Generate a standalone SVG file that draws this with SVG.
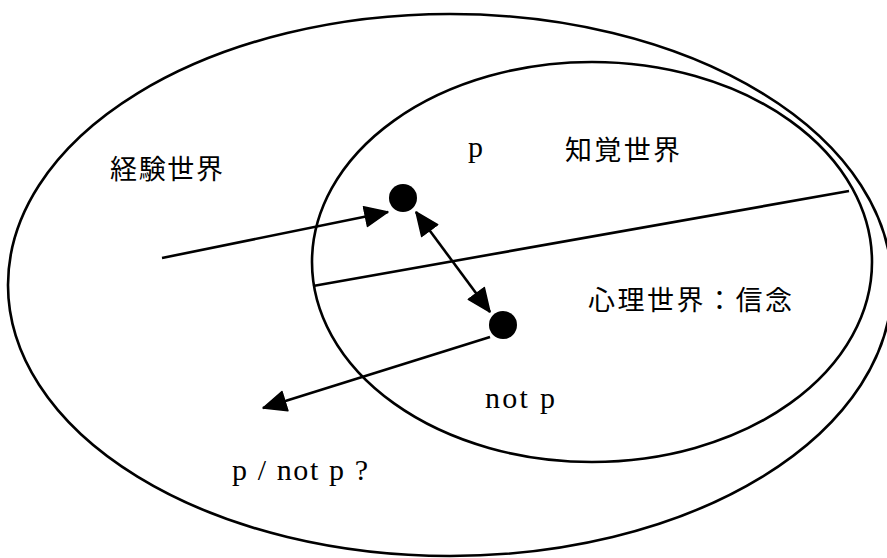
<svg xmlns="http://www.w3.org/2000/svg" width="887" height="558" viewBox="0 0 887 558">
<style>
.shape{fill:none;stroke:#000;stroke-width:2.6}
.ln{fill:none;stroke:#000;stroke-width:2.6}
.cjk{font-family:"Noto Sans CJK JP","Noto Sans CJK SC",sans-serif;font-size:27px;fill:#000}
.lat{font-family:"Liberation Serif",serif;font-size:30px;fill:#000}
.dot{fill:#000}
</style>
<defs>
<marker id="ah" markerUnits="userSpaceOnUse" markerWidth="26" markerHeight="24" viewBox="0 0 26 24" refX="24" refY="12" orient="auto-start-reverse">
<path d="M1,2 L24,12 L1,22 Z" fill="#000" stroke="#000" stroke-width="1.5" stroke-linejoin="round"/>
</marker>
</defs>
<rect width="887" height="558" fill="#fff"/>
<g id="experience-world">
<ellipse class="shape" cx="450" cy="285" rx="442" ry="271"/>
<text class="cjk" x="110" y="179" textLength="113" lengthAdjust="spacing">経験世界</text>
</g>
<g id="perception-world">
<ellipse class="shape" cx="592" cy="262" rx="280" ry="200"/>
<text class="lat" x="468" y="157">p</text>
<text class="cjk" x="565" y="160" textLength="115" lengthAdjust="spacing">知覚世界</text>
</g>
<g id="psychology-world">
<text class="cjk" x="588" y="310" textLength="204" lengthAdjust="spacing">心理世界：信念</text>
<text class="lat" x="485" y="408" textLength="70" lengthAdjust="spacing">not p</text>
</g>
<g id="question">
<text class="lat" x="232" y="480" textLength="136" lengthAdjust="spacing">p / not p ?</text>
</g>
<g id="dot-p">
<circle class="dot" cx="403" cy="198" r="14"/>
</g>
<g id="dot-notp">
<circle class="dot" cx="503" cy="325" r="14"/>
</g>
<g id="connectors">
<line class="ln" x1="313" y1="286" x2="849" y2="191"/>
<line class="ln" x1="162" y1="258" x2="388" y2="212" marker-end="url(#ah)"/>
<line class="ln" x1="416" y1="212" x2="490" y2="312" marker-start="url(#ah)" marker-end="url(#ah)"/>
<line class="ln" x1="490" y1="337" x2="263" y2="408" marker-end="url(#ah)"/>
</g>
</svg>
